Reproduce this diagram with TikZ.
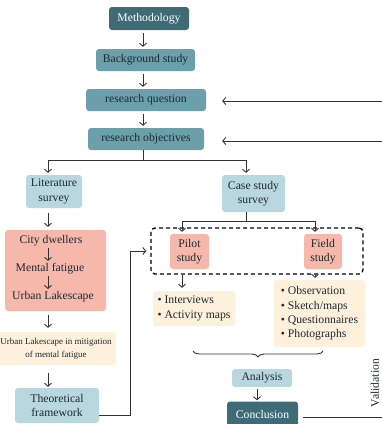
\documentclass[tikz,border=0pt]{standalone}
\usepackage{fontspec}
\setmainfont{Liberation Serif}
\usetikzlibrary{arrows.meta,calc,decorations.pathreplacing}
\definecolor{darkteal}{HTML}{3F6B77}
\definecolor{midteal}{HTML}{6C9FAC}
\definecolor{lightblue}{HTML}{B9D7DE}
\definecolor{salmon}{HTML}{F6B8AA}
\definecolor{paleyellow}{HTML}{FDF1DB}
\definecolor{ink}{HTML}{1E2A30}
\definecolor{linecol}{HTML}{333333}
\begin{document}
\begin{tikzpicture}[x=1pt,y=-1pt,
  box/.style={rounded corners=3pt, inner sep=0pt, align=center, font=\fontsize{11.7}{14.5}\selectfont, text=ink},
  darkbox/.style={box, fill=darkteal, text=white},
  midbox/.style={box, fill=midteal},
  lightbox/.style={box, fill=lightblue},
  salmbox/.style={box, fill=salmon},
  yellbox/.style={box, fill=paleyellow},
  arr/.style={draw=linecol, line width=0.9pt, -{Straight Barb[length=3pt,width=7pt]}},
  ln/.style={draw=linecol, line width=0.9pt},
  txt/.style={inner sep=0pt, font=\fontsize{11.7}{14.5}\selectfont, text=ink}
]
\useasboundingbox (0,0) rectangle (382,424);

% main column
\node[darkbox, minimum width=80pt, minimum height=23pt] (meth) at (149,18.5) {Methodology};
\node[midbox, minimum width=99pt, minimum height=22pt] (bg) at (145.5,60) {Background study};
\node[midbox, minimum width=120pt, minimum height=22pt] (rq) at (146,100) {research question};
\node[midbox, minimum width=116pt, minimum height=22pt] (ro) at (146,139) {research objectives};
\coordinate (ax) at (143,0);

\draw[arr, shorten <=3pt, shorten >=2pt] (meth.south -| ax) -- (bg.north -| ax);
\draw[arr, shorten <=3pt, shorten >=2pt] (bg.south -| ax) -- (rq.north -| ax);
\draw[arr, shorten <=3pt, shorten >=2pt] (rq.south -| ax) -- (ro.north -| ax);

% feedback arrows from right edge
\coordinate (rqin) at (386,101);
\coordinate (roin) at (386,141);
\draw[arr, shorten >=16pt] (rqin) -- (rqin -| rq.east);
\draw[arr, shorten >=18pt] (roin) -- (roin -| ro.east);

% left column
\node[lightbox, minimum width=56pt, minimum height=33pt] (lit) at (54,191.5) {Literature\\survey};
\node[salmbox, minimum width=101pt, minimum height=81pt] (city) at (55.5,270.5) {};
\node[txt] (cd) at (51,241) {City dwellers};
\node[txt] (mf) at (50,269) {Mental fatigue};
\node[txt] (ul) at (53,297) {Urban Lakescape};
\coordinate (cx) at (48,0);
\draw[arr, shorten <=1pt, shorten >=2.5pt] (cd.south -| cx) -- (mf.north -| cx);
\draw[arr, shorten <=1pt, shorten >=2.5pt] (mf.south -| cx) -- (ul.north -| cx);
\node[yellbox, minimum width=120pt, minimum height=33pt, font=\fontsize{9}{13}\selectfont] (mit) at (56,348.5) {Urban Lakescape in mitigation\\of mental fatigue};
\node[lightbox, minimum width=84pt, minimum height=35pt] (theo) at (57,405.5) {Theoretical\\framework};

% right part
\node[lightbox, minimum width=63pt, minimum height=37pt] (case) at (253.5,193.5) {Case study\\survey};

% split
\coordinate (split) at (143,160);
\draw[ln] (ro.south -| split) -- (split);
\draw[arr, shorten >=2pt] (split) -| ([xshift=-6pt]lit.north);
\draw[arr, shorten >=2pt] (split) -| ([xshift=-7.5pt]case.north);

\draw[arr, shorten <=5pt, shorten >=3pt] ([xshift=-6pt]lit.south) -- ([xshift=-7.5pt]city.north);
\draw[arr, shorten <=4pt, shorten >=4pt] (city.south -| cx) -- (mit.north -| cx);
\draw[arr, shorten <=8pt, shorten >=1pt] (mit.south -| cx) -- (theo.north -| cx);

\node[salmbox, minimum width=39pt, minimum height=35pt] (pilot) at (189.5,251.5) {Pilot\\study};
\node[salmbox, minimum width=38pt, minimum height=35pt] (field) at (323,251.5) {Field\\study};
\node[draw=black, line width=1.3pt, dash pattern=on 4pt off 3pt, rounded corners=4pt, minimum width=212pt, minimum height=46pt, inner sep=0pt] (dbox) at (257,251) {};

\coordinate (cs) at (246,221);
\draw[ln] (case.south -| cs) -- (cs);
\draw[arr, shorten >=2pt] (cs) -| ([xshift=-7.5pt]pilot.north);
\draw[arr, shorten >=2pt] (cs) -| ([xshift=-8pt]field.north);

\node[yellbox, minimum width=82pt, minimum height=35pt, align=left, font=\fontsize{11.7}{15}\selectfont] (intv) at (194,308.5) {• Interviews\\• Activity maps};
\node[yellbox, minimum width=91pt, minimum height=67pt, align=left, font=\fontsize{11.7}{14.3}\selectfont] (obs) at (319.5,313.5) {• Observation\\• Sketch/maps\\• Questionnaires\\• Photographs};

\draw[arr, shorten >=3pt] (dbox.south -| 182,0) -- (intv.north -| 182,0);
\draw[arr, shorten >=2pt] (dbox.south -| 315,0) -- (obs.north -| 315,0);

% theoretical framework to dashed box
\coordinate (tb) at (130,415);
\draw[arr, shorten >=4pt] (theo.east |- tb) -- (tb) |- (dbox.west);

% brace
\draw[linecol, line width=0.9pt, decorate, decoration={brace, mirror, amplitude=6pt}] (193,351) -- (323,351);

\node[lightbox, minimum width=60pt, minimum height=18pt] (ana) at (262,378) {Analysis};
\node[darkbox, minimum width=71pt, minimum height=25pt] (concl) at (262.5,414) {Conclusion};
\draw[arr, shorten <=2pt, shorten >=1pt] (ana.south -| 257,0) -- (concl.north -| 257,0);

\coordinate (cout) at (386,417);
\draw[ln, shorten <=5pt] (concl.east |- cout) -- (cout);

\node[txt, rotate=90] (val) at (375,383) {Validation};
\end{tikzpicture}
\end{document}
